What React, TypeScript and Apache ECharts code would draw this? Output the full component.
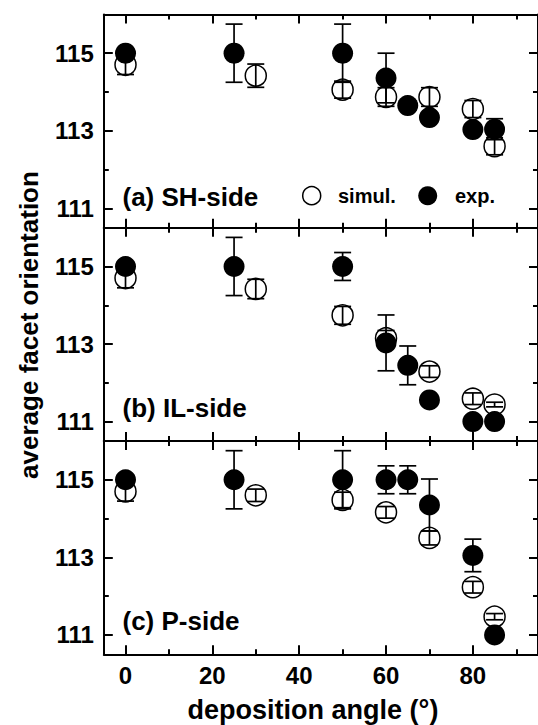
import React, { useEffect, useRef } from "react";
import * as echarts from "echarts";

// ---- data ----
const panelLabels = ["(a) SH-side", "(b) IL-side", "(c) P-side"];

const simulX_a = [0, 30, 50, 60, 70, 80, 85];
const simulY_a = [114.7, 114.42, 114.06, 113.87, 113.87, 113.56, 112.6];
const simulErr_a = [0.25, 0.3, 0.22, 0.24, 0.24, 0.22, 0.22];
const expX_a = [0, 25, 50, 60, 65, 70, 80, 85];
const expY_a = [115.0, 115.0, 115.0, 114.36, 113.65, 113.34, 113.03, 113.04];
const expErr_a = [0, 0.75, 0.75, 0.64, 0, 0, 0, 0.27];

const simulX_b = [0, 30, 50, 60, 70, 80, 85];
const simulY_b = [114.7, 114.42, 113.74, 113.15, 112.29, 111.59, 111.44];
const simulErr_b = [0.25, 0.25, 0.23, 0.2, 0.15, 0.15, 0.06];
const expX_b = [0, 25, 50, 60, 65, 70, 80, 85];
const expY_b = [115.0, 115.0, 115.0, 113.03, 112.45, 111.56, 111.0, 111.0];
const expErr_b = [0, 0.75, 0.36, 0.72, 0.5, 0, 0, 0];

const simulX_c = [0, 30, 50, 60, 70, 80, 85];
const simulY_c = [114.7, 114.6, 114.48, 114.16, 113.5, 112.23, 111.47];
const simulErr_c = [0.25, 0.16, 0.2, 0.15, 0.18, 0.15, 0.08];
const expX_c = [0, 25, 50, 60, 65, 70, 80, 85];
const expY_c = [115.0, 115.0, 115.0, 115.0, 115.0, 114.35, 113.05, 111.0];
const expErr_c = [0, 0.75, 0.75, 0.36, 0.36, 0.67, 0.42, 0];

const xMajorTicks = [0, 20, 40, 60, 80];
const xMinorTicks = [10, 30, 50, 70, 90];
const yMajorTicks = [111, 113, 115];
const yMinorTicks = [112, 114];

const panels = [
  { sx: simulX_a, sy: simulY_a, se: simulErr_a, ex: expX_a, ey: expY_a, ee: expErr_a },
  { sx: simulX_b, sy: simulY_b, se: simulErr_b, ex: expX_b, ey: expY_b, ee: expErr_b },
  { sx: simulX_c, sy: simulY_c, se: simulErr_c, ex: expX_c, ey: expY_c, ee: expErr_c },
];

const FONT = '"Liberation Sans", Arial, Helvetica, sans-serif';

export default function App() {
  const ref = useRef<HTMLDivElement>(null);
  useEffect(() => {
    if (!ref.current) return;
    const chart = echarts.init(ref.current, null, { renderer: "svg" });

    const gridTops = [14.4, 227.7, 441.0];
    const gridH = 213.3;
    const grids: any[] = [];
    const xAxes: any[] = [];
    const yAxes: any[] = [];
    const series: any[] = [];

    const errRender = (params: any, api: any) => {
      const x = api.value(0);
      const lo = api.value(1);
      const hi = api.value(2);
      const p1 = api.coord([x, hi]);
      const p2 = api.coord([x, lo]);
      const hw = 8.5;
      const style = { stroke: "#000", lineWidth: 1.7 };
      return {
        type: "group",
        children: [
          { type: "line", shape: { x1: p1[0], y1: p1[1], x2: p2[0], y2: p2[1] }, style },
          { type: "line", shape: { x1: p1[0] - hw, y1: p1[1], x2: p1[0] + hw, y2: p1[1] }, style },
          { type: "line", shape: { x1: p2[0] - hw, y1: p2[1], x2: p2[0] + hw, y2: p2[1] }, style },
        ],
      };
    };

    const lineOn = { show: true, onZero: false, lineStyle: { color: "#000", width: 2 } };
    const lineOff = { show: false, onZero: false };

    panels.forEach((p, i) => {
      grids.push({ left: 103.8, right: -3.7, top: gridTops[i], height: gridH });
      const isLast = i === panels.length - 1;
      const baseX = {
        type: "value",
        gridIndex: i,
        min: -5,
        max: 95,
        splitLine: { show: false },
      };
      const xi = xAxes.length;
      xAxes.push({
        ...baseX,
        position: "bottom",
        axisLine: lineOn,
        axisTick: { show: true, inside: true, length: 9, customValues: xMajorTicks, lineStyle: { color: "#000", width: 2 } },
        axisLabel: {
          show: isLast,
          customValues: xMajorTicks,
          margin: 9,
          color: "#000",
          fontSize: 24,
          fontWeight: "bold",
          fontFamily: FONT,
        },
      });
      xAxes.push({
        ...baseX,
        position: "bottom",
        axisLine: lineOff,
        axisTick: { show: true, inside: true, length: 5, customValues: xMinorTicks, lineStyle: { color: "#000", width: 2 } },
        axisLabel: { show: false },
      });
      xAxes.push({
        ...baseX,
        position: "top",
        axisLine: lineOn,
        axisTick: { show: true, inside: true, length: 9, customValues: xMajorTicks, lineStyle: { color: "#000", width: 2 } },
        axisLabel: { show: false },
      });
      xAxes.push({
        ...baseX,
        position: "top",
        axisLine: lineOff,
        axisTick: { show: true, inside: true, length: 5, customValues: xMinorTicks, lineStyle: { color: "#000", width: 2 } },
        axisLabel: { show: false },
      });

      const baseY = {
        type: "value",
        gridIndex: i,
        min: 110.5,
        max: 116,
        splitLine: { show: false },
      };
      const yi = yAxes.length;
      yAxes.push({
        ...baseY,
        position: "left",
        axisLine: lineOn,
        axisTick: { show: true, inside: true, length: 9, customValues: yMajorTicks, lineStyle: { color: "#000", width: 2 } },
        axisLabel: {
          show: true,
          customValues: yMajorTicks,
          margin: 10,
          color: "#000",
          fontSize: 24,
          fontWeight: "bold",
          fontFamily: FONT,
        },
      });
      yAxes.push({
        ...baseY,
        position: "left",
        axisLine: lineOff,
        axisTick: { show: true, inside: true, length: 5, customValues: yMinorTicks, lineStyle: { color: "#000", width: 2 } },
        axisLabel: { show: false },
      });
      yAxes.push({
        ...baseY,
        position: "right",
        axisLine: lineOn,
        axisTick: { show: true, inside: true, length: 9, customValues: yMajorTicks, lineStyle: { color: "#000", width: 2 } },
        axisLabel: { show: false },
      });
      yAxes.push({
        ...baseY,
        position: "right",
        axisLine: lineOff,
        axisTick: { show: true, inside: true, length: 5, customValues: yMinorTicks, lineStyle: { color: "#000", width: 2 } },
        axisLabel: { show: false },
      });

      const simulData = p.sx.map((x, k) => [x, p.sy[k]]);
      const expData = p.ex.map((x, k) => [x, p.ey[k]]);
      const simulErrData = p.sx
        .map((x, k) => [x, p.sy[k] - p.se[k], p.sy[k] + p.se[k], p.se[k]])
        .filter((d) => d[3] > 0);
      const expErrData = p.ex
        .map((x, k) => [x, p.ey[k] - p.ee[k], p.ey[k] + p.ee[k], p.ee[k]])
        .filter((d) => d[3] > 0);

      series.push({
        type: "scatter",
        name: "simul.",
        xAxisIndex: xi,
        yAxisIndex: yi,
        data: simulData,
        symbol: "circle",
        symbolSize: 21,
        itemStyle: { color: "#fff", borderColor: "#000", borderWidth: 1.5, opacity: 1 },
        z: 2,
      });
      series.push({
        type: "custom",
        xAxisIndex: xi,
        yAxisIndex: yi,
        data: simulErrData,
        encode: { x: 0, y: [1, 2] },
        renderItem: errRender,
        z: 3,
      });
      series.push({
        type: "custom",
        xAxisIndex: xi,
        yAxisIndex: yi,
        data: expErrData,
        encode: { x: 0, y: [1, 2] },
        renderItem: errRender,
        z: 4,
      });
      series.push({
        type: "scatter",
        name: "exp.",
        xAxisIndex: xi,
        yAxisIndex: yi,
        data: expData,
        symbol: "circle",
        symbolSize: 21,
        itemStyle: { color: "#000", opacity: 1 },
        z: 5,
      });
    });

    const labelY = [196.7, 408, 620.7];
    const graphic: any[] = [
      {
        type: "text",
        x: 29,
        y: 325,
        rotation: Math.PI / 2,
        style: {
          text: "average facet orientation",
          fill: "#000",
          font: `bold 26px ${FONT}`,
          textAlign: "center",
          textVerticalAlign: "middle",
        },
      },
      {
        type: "text",
        x: 313,
        y: 710,
        style: {
          text: "deposition angle (\u00B0)",
          fill: "#000",
          font: `bold 27px ${FONT}`,
          textAlign: "center",
          textVerticalAlign: "middle",
        },
      },
      ...panelLabels.map((t, i) => ({
        type: "text",
        x: 122.5,
        y: labelY[i],
        style: {
          text: t,
          fill: "#000",
          font: `bold 26px ${FONT}`,
          textAlign: "left",
          textVerticalAlign: "middle",
        },
      })),
      {
        type: "circle",
        shape: { cx: 311.7, cy: 195.7, r: 9 },
        style: { fill: "#fff", stroke: "#000", lineWidth: 1.5 },
      },
      {
        type: "text",
        x: 338,
        y: 195.7,
        style: { text: "simul.", fill: "#000", font: `bold 20px ${FONT}`, textAlign: "left", textVerticalAlign: "middle" },
      },
      {
        type: "circle",
        shape: { cx: 427.7, cy: 195.7, r: 9.5 },
        style: { fill: "#000", stroke: "#000", lineWidth: 0 },
      },
      {
        type: "text",
        x: 455,
        y: 195.7,
        style: { text: "exp.", fill: "#000", font: `bold 20px ${FONT}`, textAlign: "left", textVerticalAlign: "middle" },
      },
    ];

    chart.setOption({
      animation: false,
      backgroundColor: "#fff",
      grid: grids,
      xAxis: xAxes,
      yAxis: yAxes,
      series,
      graphic,
    });
    return () => chart.dispose();
  }, []);

  return (
    <div
      ref={ref}
      style={{ position: "fixed", left: 0, top: 0, width: 538, height: 725, background: "#fff" }}
    />
  );
}
